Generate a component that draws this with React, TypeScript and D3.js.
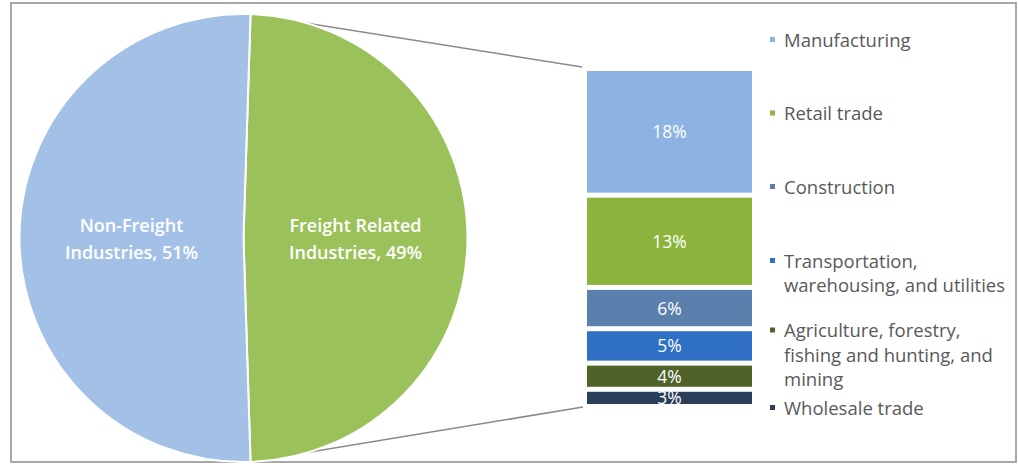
import React from "react";
import * as d3 from "d3";

const pieLabels = ["Freight Related Industries", "Non-Freight Industries"];
const pieLines = [["Freight Related", "Industries, 49%"], ["Non-Freight", "Industries, 51%"]];
const pieValues = [49, 51];
const pieColors = ["#9bc25a", "#a3c1e7"];

const barCategories = [
  "Manufacturing",
  "Retail trade",
  "Construction",
  "Transportation, warehousing, and utilities",
  "Agriculture, forestry, fishing and hunting, and mining",
  "Wholesale trade",
];
const barValues = [18.4, 13.4, 6, 5, 3.8, 2.5];
const barColors = ["#8db3e2", "#8cb43c", "#5b80ad", "#2f6fc4", "#4f6228", "#2b3e5a"];
const legendLines = [
  ["Manufacturing"],
  ["Retail trade"],
  ["Construction"],
  ["Transportation,", "warehousing, and utilities"],
  ["Agriculture, forestry,", "fishing and hunting, and", "mining"],
  ["Wholesale trade"],
];

const W = 1018;
const H = 468;
const FONT = "'Open Sans', 'Noto Sans', sans-serif";

export default function App() {
  const cx = 243.5;
  const cy = 238;
  const r = 224;
  const freightAngle = (pieValues[0] / d3.sum(pieValues)) * 2 * Math.PI;
  const start = Math.PI / 2 - freightAngle / 2;
  const pie = d3
    .pie<number>()
    .sort(null)
    .value((d) => d)
    .startAngle(start)
    .endAngle(start + 2 * Math.PI);
  const arcs = pie(pieValues);
  const arcGen = d3.arc<d3.PieArcDatum<number>>().innerRadius(0).outerRadius(r);

  const barX0 = 587;
  const barX1 = 752;
  const barTop = 71;
  const barBottom = 409;
  const total = d3.sum(barValues);
  const y = d3.scaleLinear().domain([0, total]).range([barTop, barBottom]);
  const cum = d3.cumsum(barValues);
  const gap = 5;

  const pt = (a: number) => [cx + r * Math.sin(a), cy - r * Math.cos(a)];
  const p0 = pt(arcs[0].startAngle);
  const p1 = pt(arcs[0].endAngle);

  const legendTops = [40, 113.5, 187, 261, 330.5, 408];
  const lineH = 24.5;

  return (
    <svg
      width={W}
      height={H}
      style={{ position: "absolute", left: 0, top: 0, background: "#fff" }}
      fontFamily={FONT}
    >
      <rect x={11} y={3} width={1005} height={459} fill="#fff" stroke="#a8a8a8" strokeWidth={2} />
      <line x1={p0[0]} y1={p0[1]} x2={barX0 - 5} y2={barTop - 4} stroke="#8a8a8a" strokeWidth={1.5} />
      <line x1={p1[0]} y1={p1[1]} x2={barX0 - 4} y2={barBottom - 2} stroke="#8a8a8a" strokeWidth={1.5} />
      <g>
        {arcs.map((a, i) => (
          <path
            key={pieLabels[i]}
            d={arcGen(a) || ""}
            transform={`translate(${cx},${cy})`}
            fill={pieColors[i]}
            stroke="#fff"
            strokeWidth={2}
          />
        ))}
      </g>
      {arcs.map((a, i) => {
        const c = d3.arc<d3.PieArcDatum<number>>().innerRadius(0).outerRadius(r).centroid(a);
        return (
          <text
            key={"pl" + i}
            x={cx + c[0]}
            y={cy + c[1] - 6}
            fill="#fff"
            fontSize={18}
            fontWeight={600}
            textAnchor="middle"
          >
            {pieLines[i].map((l, j) => (
              <tspan key={j} x={cx + c[0]} dy={j === 0 ? 0 : 27}>
                {l}
              </tspan>
            ))}
          </text>
        );
      })}
      {barValues.map((v, i) => {
        const ya = y(cum[i] - v);
        const yb = y(cum[i]);
        return (
          <g key={barCategories[i]}>
            <rect x={barX0} y={ya} width={barX1 - barX0} height={Math.max(0, yb - ya - gap)} fill={barColors[i]} />
            <text
              x={(barX0 + barX1) / 2}
              y={(ya + yb - gap) / 2 + 6.5}
              fill="#fff"
              fontSize={17.5}
              textAnchor="middle"
            >
              {Math.round(v) + "%"}
            </text>
          </g>
        );
      })}
      {legendLines.map((lines, i) => (
        <g key={"lg" + i}>
          <rect x={770} y={legendTops[i] - 3} width={5} height={5} fill={barColors[i]} />
          <text x={784} y={legendTops[i] + 6.5} fill="#595959" fontSize={18.5}>
            {lines.map((l, j) => (
              <tspan key={j} x={784} dy={j === 0 ? 0 : lineH}>
                {l}
              </tspan>
            ))}
          </text>
        </g>
      ))}
    </svg>
  );
}
